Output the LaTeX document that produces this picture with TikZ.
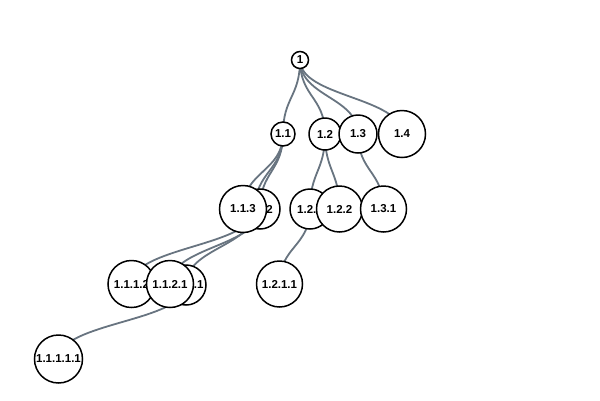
\documentclass[tikz,border=0pt]{standalone}
\usepackage{fontspec}
\setmainfont{Liberation Sans}
\usepackage{tikz}
\usetikzlibrary{backgrounds}
\definecolor{linkgray}{RGB}{104,116,128}
\tikzset{treenode/.style={circle,draw=black,fill=white,line width=1.5bp,inner sep=0pt,
           font=\fontsize{11.5bp}{12bp}\selectfont\bfseries},
         link/.style={draw=linkgray,line width=1.8bp}}

\begin{document}
\begin{tikzpicture}[x=1bp,y=-1bp]
\useasboundingbox (0,0) rectangle (600,400);
% level 0 and 1
\node[treenode,minimum size=17bp] (n1) at (300,60) {1};
\node[treenode,minimum size=24bp] (n11) at (283,134) {1.1};
\node[treenode,minimum size=32bp] (n12) at (325,134) {1.2};
\node[treenode,minimum size=38bp] (n13) at (358,134) {1.3};
\node[treenode,minimum size=47bp] (n14) at (402,134) {1.4};
% level 2
\coordinate (n111) at (255,209);
\node[treenode,minimum size=40bp] (n112) at (260,209) {1.1.2};
\node[treenode,minimum size=47bp] (n113) at (243,209) {1.1.3};
\node[treenode,minimum size=40bp] (n121) at (310,209) {1.2.1};
\node[treenode,minimum size=46bp] (n122) at (339.5,209) {1.2.2};
\node[treenode,minimum size=46bp] (n131) at (383.5,209) {1.3.1};
% level 3 and 4
\node[treenode,minimum size=40bp] (n1111) at (186,285) {1.1.1.1};
\node[treenode,minimum size=47bp] (n1112) at (131.5,284) {1.1.1.2};
\node[treenode,minimum size=47bp] (n1121) at (170,284) {1.1.2.1};
\node[treenode,minimum size=46bp] (n1211) at (279.5,284) {1.2.1.1};
\node[treenode,minimum size=48bp] (n11111) at (58.5,359) {1.1.1.1.1};
\begin{pgfonlayer}{background}
\draw[link] (n1.center) .. controls +(0,37) and +(0,-37) .. (n11.center);
\draw[link] (n1.center) .. controls +(0,37) and +(0,-37) .. (n12.center);
\draw[link] (n1.center) .. controls +(0,37) and +(0,-37) .. (n13.center);
\draw[link] (n1.center) .. controls +(0,37) and +(0,-37) .. (n14.center);
\draw[link] (n11.center) .. controls +(0,37.5) and +(0,-37.5) .. (n111);
\draw[link] (n11.center) .. controls +(0,37.5) and +(0,-37.5) .. (n112.center);
\draw[link] (n11.center) .. controls +(0,37.5) and +(0,-37.5) .. (n113.center);
\draw[link] (n12.center) .. controls +(0,37.5) and +(0,-37.5) .. (n121.center);
\draw[link] (n12.center) .. controls +(0,37.5) and +(0,-37.5) .. (n122.center);
\draw[link] (n13.center) .. controls +(0,37.5) and +(0,-37.5) .. (n131.center);
\draw[link] (n111) .. controls +(0,37.5) and +(0,-37.5) .. (n1111.center);
\draw[link] (n111) .. controls +(0,37.5) and +(0,-37.5) .. (n1112.center);
\draw[link] (n112.center) .. controls +(0,37.5) and +(0,-37.5) .. (n1121.center);
\draw[link] (n121.center) .. controls +(0,37.5) and +(0,-37.5) .. (n1211.center);
\draw[link] (n1111.center) .. controls +(0,37) and +(0,-37) .. (n11111.center);
\end{pgfonlayer}
\end{tikzpicture}
\end{document}
